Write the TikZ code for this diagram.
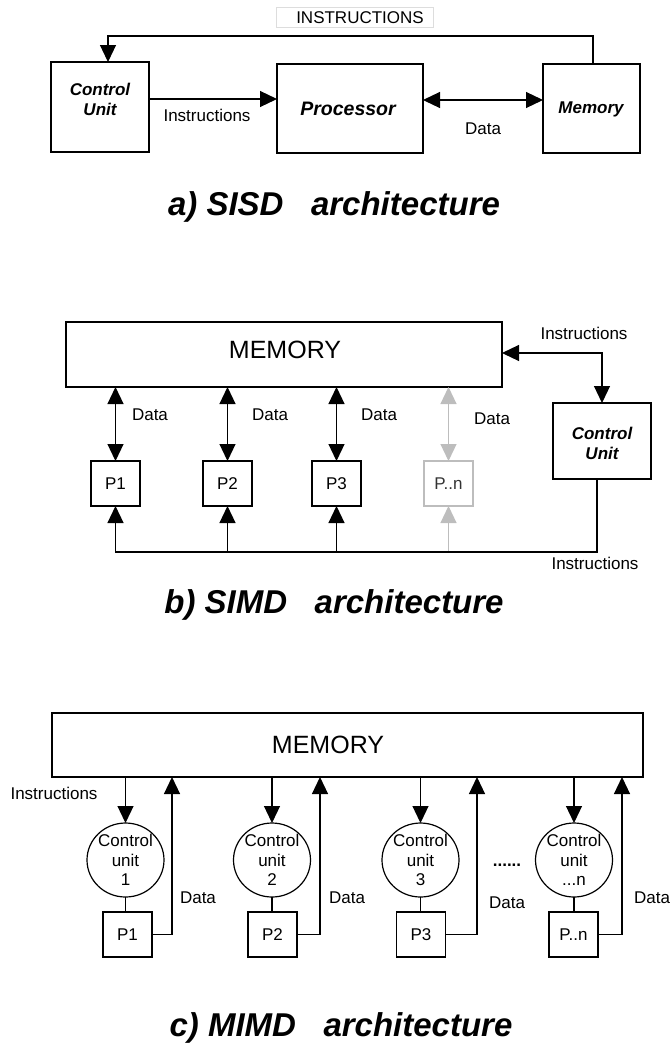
\documentclass[tikz,border=0pt]{standalone}
\usepackage{fontspec}
\setmainfont{Liberation Sans}
\usetikzlibrary{arrows.meta,shapes.geometric}
\definecolor{lgray}{HTML}{BDBDBD}
\definecolor{fgray}{HTML}{DDDDDD}
\definecolor{tgray}{HTML}{333333}
\begin{document}
\begin{tikzpicture}[x=1pt,y=-1pt,
  every node/.style={inner sep=0pt, outer sep=0pt},
  box/.style={draw, line width=1.2pt},
  conn/.style={line width=1.2pt},
  tipe/.style={-{Triangle[length=17pt,width=16pt]}},
  tipb/.style={{Triangle[length=17pt,width=16pt]}-{Triangle[length=17pt,width=16pt]}},
  lbl/.style={font=\fontsize{17}{19.5}\selectfont, align=center},
  bilbl/.style={font=\fontsize{17}{20}\selectfont\bfseries\itshape, align=center},
  ttl/.style={font=\fontsize{33}{36}\selectfont\bfseries\itshape, anchor=base},
  memtxt/.style={font=\fontsize{25}{28}\selectfont},
  circ/.style={draw, ellipse, line width=1.2pt, minimum width=77pt, minimum height=74pt},
  pbox/.style={box, minimum width=49pt, minimum height=45pt, font=\fontsize{17}{19.5}\selectfont},
]
\useasboundingbox (0,0) rectangle (670,1047);

% ---------- a) SISD ----------
\node[draw=fgray, line width=0.8pt, minimum width=157pt, minimum height=20pt] (ibox) at (354.5,17) {};
\node[lbl] (itxt) at (360,18) {INSTRUCTIONS};
\node[box, minimum width=98pt, minimum height=90pt] (cu) at (100,107) {};
\node[bilbl] (cut) at (100,99) {Control\\Unit};
\node[box, minimum width=146pt, minimum height=89pt] (proc) at (350,108.5) {};
\node[font=\fontsize{19.5}{22}\selectfont\bfseries\itshape, anchor=base] (proct) at (348,115) {Processor};
\node[box, minimum width=97pt, minimum height=89pt] (mem) at (591.5,108.5) {};
\node[bilbl, anchor=base] (memt) at (591,113.5) {Memory};
\draw[conn,tipe] ([xshift=1.5pt]mem.north) -- ++(0,-28) -| ([xshift=8pt]cu.north);
\draw[conn,tipe] ([yshift=8pt]cu.east) -- ([yshift=8pt]cu.east -| proc.west);
\draw[conn,tipb] ([yshift=8.5pt]proc.east) -- ([yshift=8.5pt]proc.east -| mem.west);
\node[lbl] (la1) at (207,115) {Instructions};
\node[lbl] (la2) at (483,129) {Data};
\node[ttl] (ta) at (334,215) {a) SISD\ \ \ architecture};

% ---------- b) SIMD ----------
\node[box, minimum width=436pt, minimum height=65pt] (mb) at (284,354.5) {};
\node[memtxt] (mbt) at (285,350) {MEMORY};
\node[pbox] (b1) at (115.5,483.5) {P1};
\node[pbox] (b2) at (227.5,483.5) {P2};
\node[pbox] (b3) at (336.5,483.5) {P3};
\node[pbox, draw=lgray, text=tgray] (bn) at (448.5,483.5) {P..n};
\node[box, minimum width=98pt, minimum height=76pt] (cub) at (602,441) {};
\node[bilbl] (cubt) at (602,443) {Control\\Unit};
\draw[conn,tipb] (mb.south -| b1) -- (b1.north);
\draw[conn,tipb] (mb.south -| b2) -- (b2.north);
\draw[conn,tipb] (mb.south -| b3) -- (b3.north);
\draw[conn,tipb,lgray] (mb.south -| bn) -- (bn.north);
\draw[conn,tipb] ([yshift=1.5pt]mb.east) -| (cub.north);
\coordinate (bus) at (0,552);
\draw[conn,tipe,lgray] (bn.south |- bus) -- (bn.south);
\draw[conn,tipe] ([xshift=-5pt]cub.south) -- ++(0,73) -| (b1.south);
\draw[conn,tipe] (b2.south |- bus) -- (b2.south);
\draw[conn,tipe] (b3.south |- bus) -- (b3.south);
\node[lbl] (lb1) at (150,415) {Data};
\node[lbl] (lb2) at (270,415) {Data};
\node[lbl] (lb3) at (379,415) {Data};
\node[lbl] (lb4) at (492,419) {Data};
\node[lbl] (lb5) at (584,333) {Instructions};
\node[lbl] (lb6) at (595,563) {Instructions};
\node[ttl] (tb) at (334,613) {b) SIMD\ \ \ architecture};

% ---------- c) MIMD ----------
\node[box, minimum width=591pt, minimum height=64pt] (mc) at (347.5,745) {};
\node[memtxt] (mct) at (328,745) {MEMORY};
\node[circ] (c1) at (125.5,860) {};
\node[circ] (c2) at (272,860) {};
\node[circ] (c3) at (420.5,860) {};
\node[circ] (c4) at (574,860) {};
\node[lbl] (c1t) at (125.5,860) {Control\\unit\\1};
\node[lbl] (c2t) at (272,860) {Control\\unit\\2};
\node[lbl] (c3t) at (420.5,860) {Control\\unit\\3};
\node[lbl] (c4t) at (574,860) {Control\\unit\\...n};
\node[pbox] (q1) at (127.5,934.5) {P1};
\node[pbox] (q2) at (272.5,934.5) {P2};
\node[pbox] (q3) at (421,934.5) {P3};
\node[pbox] (qn) at (573.5,934.5) {P..n};
\foreach \c/\q in {c1/q1,c2/q2,c3/q3,c4/qn}{
  \draw[conn,tipe] (mc.south -| \c) -- (\c.north);
  \draw[conn] (\c.south) -- (\c.south |- \q.north);
}
\coordinate (d1) at (172,0);
\coordinate (d2) at (320,0);
\coordinate (d3) at (477,0);
\coordinate (d4) at (622,0);
\draw[conn,tipe] (q1.east) -| (mc.south -| d1);
\draw[conn,tipe] (q2.east) -| (mc.south -| d2);
\draw[conn,tipe] (q3.east) -| (mc.south -| d3);
\draw[conn,tipe] (qn.east) -| (mc.south -| d4);
\node[lbl] (lc1) at (198,898) {Data};
\node[lbl] (lc2) at (347,898) {Data};
\node[lbl] (lc3) at (507,903) {Data};
\node[lbl] (lc4) at (652,898) {Data};
\node[lbl] (lc5) at (54,793) {Instructions};
\node[font=\fontsize{17}{19}\selectfont\bfseries] (dots) at (507,865) {......};
\node[ttl] (tc) at (341,1036) {c) MIMD\ \ \ architecture};
\end{tikzpicture}
\end{document}
